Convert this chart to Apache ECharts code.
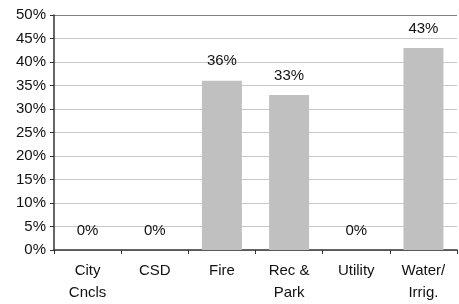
<!DOCTYPE html>
<html>
<head>
<meta charset="utf-8">
<script src="https://cdn.jsdelivr.net/npm/echarts@6/dist/echarts.min.js"></script>
<style>
  html, body { margin: 0; padding: 0; background: #fff; }
  #chart { width: 459px; height: 304px; }
</style>
</head>
<body>
<div id="chart"></div>
<script>
// 分类与数值
const categories = ['City\nCncls', 'CSD', 'Fire', 'Rec &\nPark', 'Utility', 'Water/\nIrrig.'];
const values = [0, 0, 36, 33, 0, 43];
const yTicks = [0, 5, 10, 15, 20, 25, 30, 35, 40, 45, 50];

const chart = echarts.init(document.getElementById('chart'));
const font = 'Liberation Sans, Arial, sans-serif';

// 顶部网格线颜色深一些
const splitColors = yTicks.map((t, i) => i === yTicks.length - 1 ? '#808080' : '#c8c8c8');

chart.setOption({
  animation: false,
  grid: { left: 54, right: 2, top: 15, bottom: 53 },
  xAxis: {
    type: 'category',
    data: categories,
    axisLine: { lineStyle: { color: '#333', width: 1.5 } },
    axisTick: { show: true, length: 4, lineStyle: { color: '#333' } },
    axisLabel: {
      color: '#111', fontFamily: font, fontSize: 15,
      lineHeight: 22, margin: 10, interval: 0, verticalAlign: 'top'
    }
  },
  yAxis: {
    type: 'value',
    min: 0, max: 50, interval: 5,
    axisLine: { show: true, lineStyle: { color: '#333', width: 1.5 } },
    axisTick: { show: true, length: 4, lineStyle: { color: '#333' } },
    splitLine: { show: true, lineStyle: { color: splitColors, width: 1 } },
    axisLabel: {
      color: '#111', fontFamily: font, fontSize: 15, margin: 8,
      formatter: v => v + '%'
    }
  },
  series: [{
    type: 'bar',
    data: values,
    barWidth: 40,
    itemStyle: { color: '#c0c0c0' },
    label: {
      show: true, position: 'top', distance: 12,
      color: '#111', fontFamily: font, fontSize: 15,
      formatter: p => p.value + '%'
    }
  }]
});
</script>
</body>
</html>
